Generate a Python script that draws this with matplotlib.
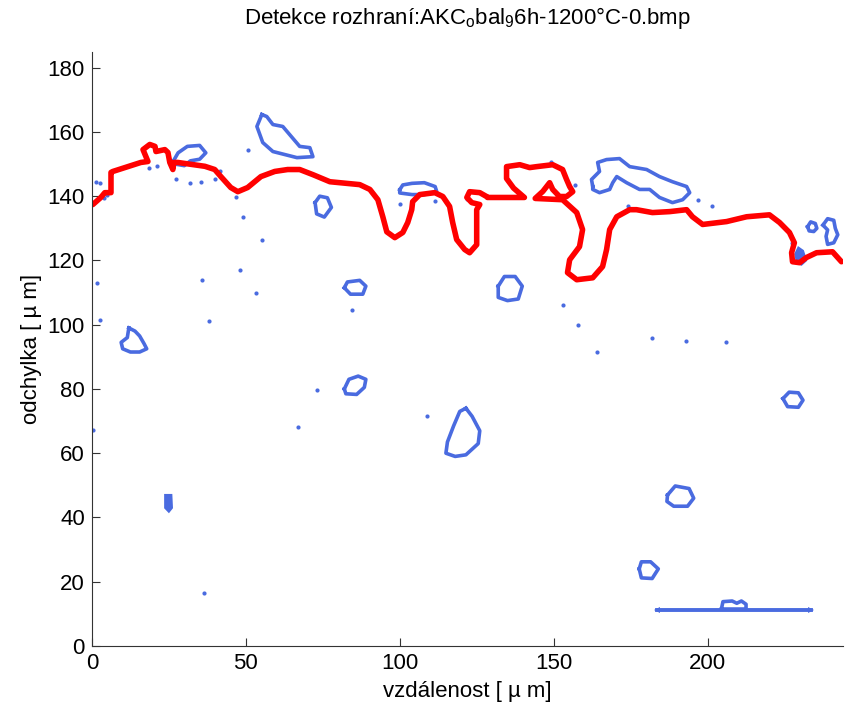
import matplotlib
matplotlib.use("Agg")
import matplotlib.pyplot as plt

plt.rcParams["font.family"] = ["Liberation Sans", "DejaVu Sans"]

# interface line (red), in micrometres
interface_x = [0.3, 2.9, 4.2, 6.2, 6.2, 6.8, 15.9, 18.2, 16.6, 18.8, 20.5, 20.8, 23.7, 24.7,
               25.3, 26.3, 26.6, 27.9, 36.7, 39.9, 41.9, 45.1, 47.4, 50.6, 54.9, 59.4, 63.6,
               67.5, 71.8, 77.3, 87.0, 90.3, 92.9, 94.5, 95.8, 98.4, 101.0, 102.6, 103.9, 104.2,
               106.5, 111.4, 114.0, 116.2, 117.2, 118.5, 121.1, 122.7, 125.0, 125.0, 125.0,
               126.0, 123.4, 121.8, 122.7, 126.0, 128.2, 128.5, 140.5, 137.0, 134.7, 134.7,
               139.0, 142.2, 144.5, 149.7, 152.9, 154.2, 155.2, 156.2, 154.2, 151.9, 149.7,
               148.7, 146.5, 144.0, 152.9, 157.5, 159.4, 158.4, 155.2, 154.5, 157.5, 162.7,
               165.9, 167.2, 168.2, 170.5, 174.7, 176.9, 182.1, 187.7, 193.2, 195.1, 198.4,
               206.2, 212.7, 220.1, 223.4, 226.6, 228.2, 227.3, 227.6, 229.9, 232.1, 235.4,
               240.6, 243.5]
interface_y = [137.4, 139.6, 141.1, 141.1, 147.4, 147.7, 150.5, 150.8, 154.5, 156.1, 155.5,
               153.9, 154.5, 153.6, 150.5, 148.3, 150.5, 150.5, 149.3, 148.3, 146.1, 142.7,
               141.4, 142.7, 146.1, 147.7, 148.3, 148.3, 146.7, 144.5, 143.6, 142.1, 138.9,
               133.6, 128.9, 127.1, 128.7, 131.8, 135.8, 138.3, 140.5, 141.1, 139.9, 136.8,
               131.8, 126.5, 123.4, 122.4, 124.9, 131.2, 135.8, 137.4, 138.0, 139.6, 141.4,
               141.1, 139.9, 139.6, 139.6, 142.5, 145.5, 149.2, 149.8, 148.9, 149.2, 149.8,
               148.3, 145.2, 143.0, 141.4, 139.9, 139.9, 142.1, 144.2, 141.5, 139.3, 138.9,
               134.9, 129.6, 124.3, 120.2, 116.2, 114.0, 114.6, 118.1, 123.4, 129.6, 133.6,
               135.8, 135.8, 134.9, 135.2, 135.8, 133.6, 131.2, 132.1, 133.6, 134.2, 131.8,
               128.7, 125.5, 122.4, 119.6, 119.3, 120.9, 122.4, 122.7, 119.6]

# detected particle outlines (blue), closed contours
blob_a = [(12.0, 99.0), (14.0, 98.0), (15.5, 96.5), (17.0, 94.0), (17.8, 92.5), (15.5, 91.5),
          (12.5, 91.5), (10.0, 92.5), (9.5, 94.5), (11.5, 96.0), (12.0, 99.0)]
blob_d = [(82.0, 80.0), (83.5, 83.0), (86.5, 84.0), (89.0, 83.0), (88.5, 80.5), (86.0, 78.3),
          (82.5, 78.5)]
blob_e = [(82.0, 111.5), (83.0, 113.3), (87.0, 113.8), (89.0, 112.0), (88.0, 109.5), (84.0, 109.5)]
blob_f = [(121.5, 74.0), (123.5, 71.5), (126.0, 67.0), (125.5, 63.0), (121.5, 59.5), (118.0, 59.0),
          (115.0, 60.0), (115.5, 63.5), (117.5, 68.5), (119.5, 73.0)]
blob_g = [(132.0, 112.0), (134.0, 115.0), (137.5, 115.0), (139.8, 112.0), (138.5, 108.0),
          (135.0, 107.5), (132.0, 108.5)]
blob_i = [(187.0, 47.0), (189.5, 49.8), (194.0, 49.0), (195.5, 46.0), (193.5, 43.5), (189.0, 43.5),
          (186.8, 45.0)]
blob_j = [(177.8, 24.0), (178.5, 26.2), (181.5, 26.2), (184.0, 24.0), (182.0, 21.0), (178.5, 21.2)]
blob_k = [(224.5, 77.0), (226.5, 79.0), (229.5, 78.8), (231.0, 76.5), (229.5, 74.3), (226.0, 74.5)]
blob_m = [(26.5, 151.0), (28.0, 153.5), (31.0, 155.5), (35.0, 155.8), (37.0, 153.5), (35.0, 151.5),
          (32.0, 151.0), (30.0, 149.5), (27.0, 150.0)]
blob_n = [(55.2, 165.4), (53.6, 161.7), (55.5, 156.7), (58.8, 153.9), (66.6, 152.0), (71.8, 152.3),
          (70.8, 155.1), (67.5, 155.5), (62.0, 161.7), (58.8, 162.3), (56.8, 164.8)]
blob_o = [(100.0, 142.0), (101.0, 143.5), (104.0, 144.0), (108.0, 144.2), (111.5, 143.0),
          (112.0, 141.5), (108.0, 140.5), (104.0, 140.5), (100.0, 141.0)]
blob_p = [(162.7, 143.0), (162.3, 145.2), (164.9, 147.7), (164.3, 150.5), (167.2, 151.4),
          (171.4, 151.7), (174.7, 149.2), (180.2, 148.3), (184.4, 146.1), (188.6, 144.5),
          (193.2, 143.0), (194.2, 141.1), (191.9, 138.9), (188.6, 138.0), (184.4, 139.6),
          (181.2, 142.1), (177.9, 142.1), (173.7, 144.2), (170.5, 146.1), (169.2, 144.2),
          (168.2, 142.1), (164.9, 141.1), (162.7, 142.1)]
blob_r1 = [(232.5, 130.5), (233.5, 132.0), (235.0, 131.5), (235.5, 130.0), (234.5, 129.0),
           (233.0, 129.2)]
blob_r2 = [(237.5, 131.0), (239.0, 133.0), (241.0, 132.5), (241.5, 130.0), (242.3, 128.0),
           (241.0, 125.5), (239.0, 125.0), (238.5, 127.5), (239.0, 129.5)]
blob_h = [(72.5, 138.0), (74.0, 140.0), (76.5, 139.5), (77.8, 136.5), (75.5, 133.5), (73.0, 134.5)]
scale_blob = [(204.5, 11.5), (205.0, 13.8), (208.0, 14.0), (209.5, 13.3), (211.0, 14.0),
              (212.5, 13.0), (212.5, 11.5)]
outlines = [blob_a, blob_d, blob_e, blob_f, blob_g, blob_i, blob_j, blob_k, blob_m, blob_n,
            blob_o, blob_p, blob_r1, blob_r2, blob_h, scale_blob]

# filled small particles
fill_b = [(23.8, 47.0), (25.8, 47.0), (26.0, 43.0), (25.0, 41.8), (23.8, 43.0)]
fill_t = [(228.5, 122.0), (229.5, 124.0), (231.0, 123.0), (232.0, 120.0), (230.5, 118.7),
          (229.0, 119.5)]
fills = [fill_b, fill_t]

# tiny specks
speck_x = [1.2, 2.5, 3.8, 4.8, 18.5, 21.0, 27.3, 32.0, 35.4, 40.0, 41.6, 46.8, 49.0, 50.6,
           0.3, 2.6, 1.6, 35.7, 48.0, 55.2, 53.2, 38.0, 73.0, 66.9, 109.0, 84.4, 153.2,
           164.2, 182.0, 193.0, 206.0, 196.8, 201.3, 227.3, 36.4, 100.0, 111.5, 174.0,
           149.0, 158.0, 122.0, 157.0]
speck_y = [144.4, 144.0, 139.5, 140.5, 148.8, 149.5, 145.2, 144.2, 144.5, 145.2, 147.7, 139.9,
           133.6, 154.5, 67.3, 101.6, 113.0, 114.0, 117.1, 126.5, 110.0, 101.0, 79.8, 68.2,
           71.7, 104.7, 106.2, 91.6, 96.0, 95.0, 94.7, 138.9, 136.8, 125.5, 16.5, 137.5,
           138.5, 136.8, 150.5, 100.0, 139.0, 143.5]

# scale bar
bar_x = [183.5, 233.5]
bar_y = [11.2, 11.2]

blue = "#4a6be0"
red = "#ff0000"

fig = plt.figure(figsize=(8.51, 7.07), dpi=100)
ax = fig.add_axes([0.108, 0.0863, 0.8826, 0.8407])

for pts in outlines:
    xs = [p[0] for p in pts] + [pts[0][0]]
    ys = [p[1] for p in pts] + [pts[0][1]]
    ax.plot(xs, ys, color=blue, lw=2.6, solid_joinstyle="round")
for pts in fills:
    ax.fill([p[0] for p in pts], [p[1] for p in pts], color=blue, lw=1.5)
ax.plot(speck_x, speck_y, "o", color=blue, ms=3, mew=0)
ax.plot(bar_x, bar_y, color=blue, lw=2.8)
ax.plot(bar_x[0], bar_y[0], "<", color=blue, ms=5, mew=0)
ax.plot(bar_x[1], bar_y[1], ">", color=blue, ms=5, mew=0)

ax.plot(interface_x, interface_y, color=red, lw=4.0, solid_joinstyle="round",
        solid_capstyle="round")

ax.set_xlim(0, 244)
ax.set_ylim(0, 185)
ax.set_xticks([0, 50, 100, 150, 200])
ax.set_yticks(range(0, 181, 20))
ax.spines["top"].set_visible(False)
ax.spines["right"].set_visible(False)
for s in ("left", "bottom"):
    ax.spines[s].set_color("#333333")
    ax.spines[s].set_linewidth(0.8)
ax.tick_params(direction="in", length=6, width=0.8, color="#333333", labelsize=16,
               labelcolor="black", pad=5)

ax.set_xlabel("vzdálenost [ µ m]", fontsize=16, labelpad=5)
ax.set_ylabel("odchylka [ µ m]", fontsize=16, labelpad=4)
ax.set_title("Detekce rozhraní:AKC$_\\mathregular{o}$bal$_\\mathregular{9}$6h-1200°C-0.bmp",
             fontsize=16, pad=20)

fig.savefig("out.png", dpi=100)
